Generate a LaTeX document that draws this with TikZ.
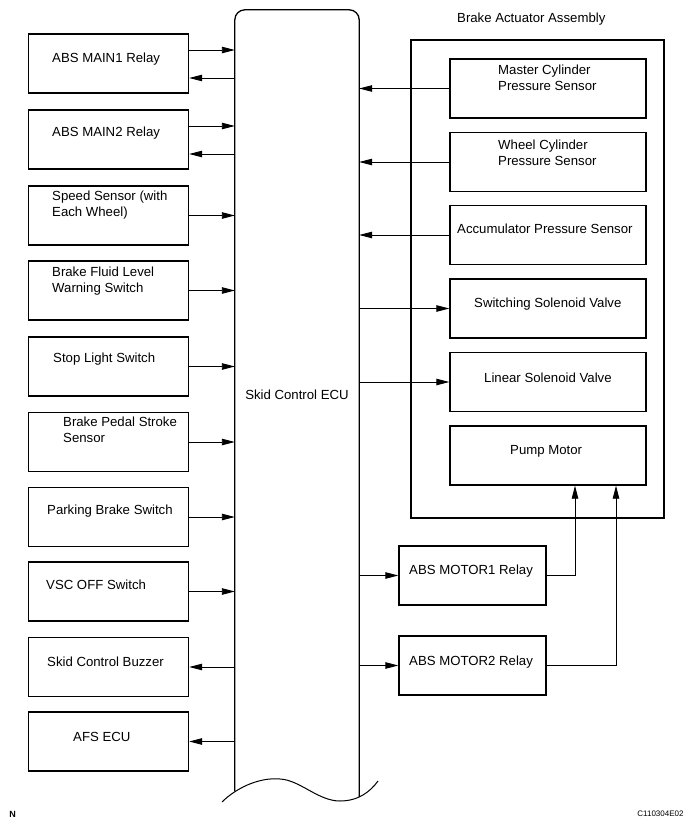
\documentclass[tikz,border=0pt]{standalone}
\usepackage{fontspec}
\setmainfont{Liberation Sans}
\usetikzlibrary{arrows.meta}

\begin{document}
\begin{tikzpicture}[x=1pt, y=-1pt,
	blk/.style={draw=black, line width=1.4pt, minimum height=59pt, inner sep=0pt},
	lblk/.style={blk, minimum width=160pt},
	rblk/.style={blk, minimum width=196pt},
	mblk/.style={blk, minimum width=147pt},
	txt/.style={anchor=north west, inner sep=0pt, align=left, font=\fontsize{13.2}{16}\selectfont},
	arr/.style={-{Triangle[length=13pt, width=6.5pt]}, line width=0.9pt}]
	
	\useasboundingbox (0, 0) rectangle (693, 827);
	
	% skid control ECU
	\node[inner sep=0pt, minimum width=124pt, minimum height=770pt, font=\fontsize{13.2}{16}\selectfont] (ecu) at (297, 395) {Skid Control ECU};
	\draw[line width=1.3pt, rounded corners=10pt] (ecu.west |- 0, 791) -- (ecu.north west) -- (ecu.north east) -- (ecu.east |- 0, 797);
	\draw[line width=1pt] (222, 802) .. controls (235, 789) and (258, 777) .. (280, 779) .. controls (300, 780) and (318, 801) .. (340, 801) .. controls (358, 801) and (370, 792) .. (378, 781);
	
	% left side
	\node[lblk] (main1)   at (108.5, 63.5)  {};
	\node[lblk] (main2)   at (108.5, 139.5) {};
	\node[lblk] (speed)   at (108.5, 215.5) {};
	\node[lblk] (fluid)   at (108.5, 290.5) {};
	\node[lblk] (stop)    at (108.5, 366.5) {};
	\node[lblk] (pedal)   at (108.5, 442)   {};
	\node[lblk] (parking) at (108.5, 517)   {};
	\node[lblk] (vsc)     at (108.5, 591.5) {};
	\node[lblk] (buzzer)  at (108.5, 667)   {};
	\node[lblk] (afs)     at (108.5, 741.5) {};
	
	\node[txt] (main1t)   at (52, 52.3)  {ABS MAIN1 Relay};
	\node[txt] (main2t)   at (52, 126.3) {ABS MAIN2 Relay};
	\node[txt] (speedt)   at (52, 190.3) {Speed Sensor (with\\Each Wheel)};
	\node[txt] (fluidt)   at (52, 266.3) {Brake Fluid Level\\Warning Switch};
	\node[txt] (stopt)    at (53, 352.3) {Stop Light Switch};
	\node[txt] (pedalt)   at (63, 416.3) {Brake Pedal Stroke\\Sensor};
	\node[txt] (parkingt) at (47, 504.3) {Parking Brake Switch};
	\node[txt] (vsct)     at (46, 579.3) {VSC OFF Switch};
	\node[txt] (buzzert)  at (47, 656.3) {Skid Control Buzzer};
	\node[txt] (afst)     at (73, 732.3) {AFS ECU};
	
	\coordinate (main1in)  at ([yshift=13.5pt]main1.east);
	\coordinate (main1out) at ([yshift=-14.5pt]main1.east);
	\coordinate (main2in)  at ([yshift=13.5pt]main2.east);
	\coordinate (main2out) at ([yshift=-14.5pt]main2.east);
	
	\path[arr] (main1in) edge (main1in -| ecu.west);
	\path[arr] (main1out -| ecu.west) edge (main1out);
	\path[arr] (main2in) edge (main2in -| ecu.west);
	\path[arr] (main2out -| ecu.west) edge (main2out);
	\path[arr] (speed.east) edge (speed.east -| ecu.west);
	\path[arr] (fluid.east) edge (fluid.east -| ecu.west);
	\path[arr] (stop.east) edge (stop.east -| ecu.west);
	\path[arr] (pedal.east) edge (pedal.east -| ecu.west);
	\path[arr] (parking.east) edge (parking.east -| ecu.west);
	\path[arr] (vsc.east) edge (vsc.east -| ecu.west);
	\path[arr] (buzzer.east -| ecu.west) edge (buzzer.east);
	\path[arr] (afs.east -| ecu.west) edge (afs.east);
	
	% brake actuator assembly
	\node[draw=black, line width=1.4pt, inner sep=0pt, minimum width=253pt, minimum height=478pt] (actuator) at (537.5, 279) {};
	\node[txt] (actuatort) at (457, 12.3) {Brake Actuator Assembly};
	
	\node[rblk] (master) at (548, 88.5)  {};
	\node[rblk] (wheel)  at (548, 162)   {};
	\node[rblk] (accum)  at (548, 235)   {};
	\node[rblk] (switch) at (548, 308.5) {};
	\node[rblk] (linear) at (548, 382)   {};
	\node[rblk] (pump)   at (548, 455.5) {};
	
	\node[txt] (mastert) at (498, 64.3)  {Master Cylinder\\Pressure Sensor};
	\node[txt] (wheelt)  at (498, 139.3) {Wheel Cylinder\\Pressure Sensor};
	\node[txt] (accumt)  at (457, 223.3) {Accumulator Pressure Sensor};
	\node[txt] (switcht) at (474, 297.3) {Switching Solenoid Valve};
	\node[txt] (lineart) at (484, 372.3) {Linear Solenoid Valve};
	\node[txt] (pumpt)   at (510, 445.3) {Pump Motor};
	
	\path[arr] (master.west) edge (master.west -| ecu.east);
	\path[arr] (wheel.west) edge (wheel.west -| ecu.east);
	\path[arr] (accum.west) edge (accum.west -| ecu.east);
	\path[arr] (switch.west -| ecu.east) edge (switch.west);
	\path[arr] (linear.west -| ecu.east) edge (linear.west);
	
	% motor relays
	\node[mblk] (motor1) at (472.5, 575.5) {};
	\node[mblk] (motor2) at (472.5, 665.5) {};
	\node[txt] (motor1t) at (409, 564.3) {ABS MOTOR1 Relay};
	\node[txt] (motor2t) at (409, 655.3) {ABS MOTOR2 Relay};
	
	\path[arr] (ecu.east |- motor1.west) edge (motor1.west);
	\path[arr] (ecu.east |- motor2.west) edge (motor2.west);
	\draw[arr] (motor1.east) -| ([xshift=27pt]pump.south);
	\draw[arr] (motor2.east) -| ([xshift=68pt]pump.south);
	
	\node[inner sep=0pt, font=\bfseries\fontsize{9}{9}\selectfont] (fign) at (12.5, 814) {N};
	\node[inner sep=0pt, font=\fontsize{8}{8}\selectfont] (figid) at (660.5, 813.5) {C110304E02};
	
\end{tikzpicture}
\end{document}
